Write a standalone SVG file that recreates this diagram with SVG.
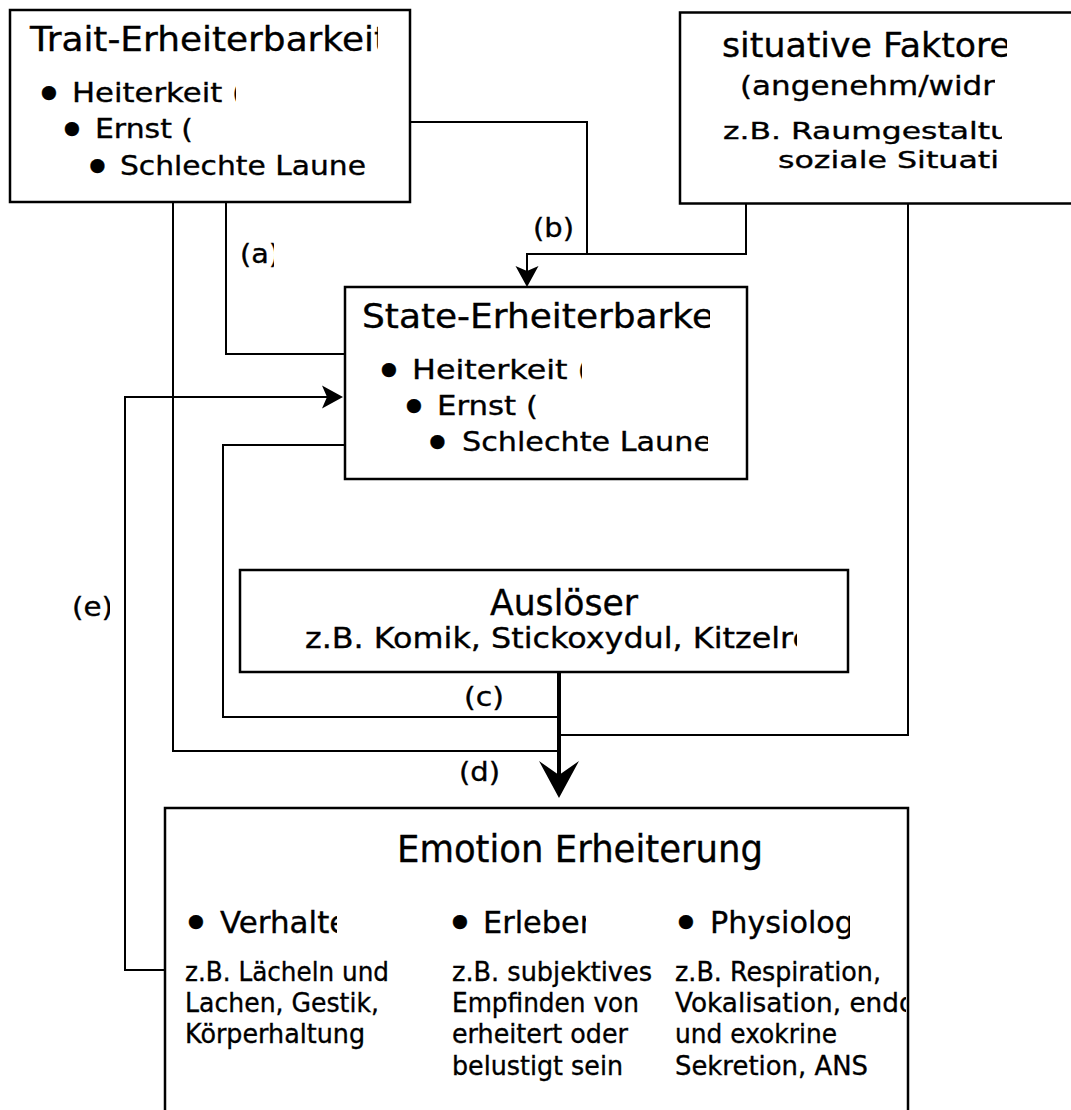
<svg xmlns="http://www.w3.org/2000/svg" width="1071" height="1110" viewBox="0 0 1071 1110">
<style>
.box{fill:#fff;stroke:#000;stroke-width:2.5}
.t{font-family:"DejaVu Sans","Liberation Sans",sans-serif;fill:#000;stroke:#000;stroke-width:0.35}
.ttl{font-size:33px}
.b25{font-size:27px}
.sm{font-size:23.5px}
.lab{font-size:27px}
.b27{font-size:29px}
.b30{font-size:31px}
.b24{font-size:26px}
.bul{font-size:48px;text-anchor:middle}
.ln{fill:none;stroke:#000;stroke-width:2}
.thick{fill:none;stroke:#000;stroke-width:4}
</style>
<defs>
<marker id="ah" markerUnits="userSpaceOnUse" orient="auto" overflow="visible" refX="-6" refY="0" markerWidth="1" markerHeight="1"><path d="M0,0 L-21,-11.5 L-16,0 L-21,11.5 Z" fill="#000"/></marker>
<marker id="ahBig" markerUnits="userSpaceOnUse" orient="auto" overflow="visible" refX="-13" refY="0" markerWidth="1" markerHeight="1"><path d="M0,0 L-37,-20 L-23,0 L-37,20 Z" fill="#000"/></marker>
<clipPath id="c378" clipPathUnits="userSpaceOnUse"><rect x="0" y="0" width="378" height="1110"/></clipPath>
<clipPath id="c236" clipPathUnits="userSpaceOnUse"><rect x="0" y="0" width="236" height="1110"/></clipPath>
<clipPath id="c367" clipPathUnits="userSpaceOnUse"><rect x="0" y="0" width="367" height="1110"/></clipPath>
<clipPath id="c1007" clipPathUnits="userSpaceOnUse"><rect x="0" y="0" width="1007" height="1110"/></clipPath>
<clipPath id="c995" clipPathUnits="userSpaceOnUse"><rect x="0" y="0" width="995" height="1110"/></clipPath>
<clipPath id="c1002" clipPathUnits="userSpaceOnUse"><rect x="0" y="0" width="1002" height="1110"/></clipPath>
<clipPath id="c710" clipPathUnits="userSpaceOnUse"><rect x="0" y="0" width="710" height="1110"/></clipPath>
<clipPath id="c582" clipPathUnits="userSpaceOnUse"><rect x="0" y="0" width="582" height="1110"/></clipPath>
<clipPath id="c708" clipPathUnits="userSpaceOnUse"><rect x="0" y="0" width="708" height="1110"/></clipPath>
<clipPath id="c797" clipPathUnits="userSpaceOnUse"><rect x="0" y="0" width="797" height="1110"/></clipPath>
<clipPath id="c337" clipPathUnits="userSpaceOnUse"><rect x="0" y="0" width="337" height="1110"/></clipPath>
<clipPath id="c586" clipPathUnits="userSpaceOnUse"><rect x="0" y="0" width="586" height="1110"/></clipPath>
<clipPath id="c850" clipPathUnits="userSpaceOnUse"><rect x="0" y="0" width="850" height="1110"/></clipPath>
<clipPath id="c906" clipPathUnits="userSpaceOnUse"><rect x="0" y="0" width="906" height="1110"/></clipPath>
<clipPath id="c274" clipPathUnits="userSpaceOnUse"><rect x="0" y="0" width="274" height="1110"/></clipPath>
<clipPath id="c573" clipPathUnits="userSpaceOnUse"><rect x="0" y="0" width="573" height="1110"/></clipPath>
<clipPath id="c504" clipPathUnits="userSpaceOnUse"><rect x="0" y="0" width="504" height="1110"/></clipPath>
<clipPath id="c499" clipPathUnits="userSpaceOnUse"><rect x="0" y="0" width="499" height="1110"/></clipPath>
<clipPath id="c110" clipPathUnits="userSpaceOnUse"><rect x="0" y="0" width="110" height="1110"/></clipPath>
</defs>
<rect width="1071" height="1110" fill="#fff"/>

<g id="connectors">
<path class="ln" d="M173,202 V751 H557"/>
<path class="ln" d="M226,202 V354 H345"/>
<path class="ln" d="M410,122 H587 V254"/>
<path class="ln" d="M746,204 V254 H527 V281" marker-end="url(#ah)"/>
<path class="ln" d="M908,204 V735 H561"/>
<path class="ln" d="M345,445 H223 V717 H557"/>
<path class="ln" d="M165,970 H125 V397 H337" marker-end="url(#ah)"/>
<path class="thick" d="M559,672 V785" marker-end="url(#ahBig)"/>
<text class="t lab" x="240" y="263" textLength="40" lengthAdjust="spacingAndGlyphs" clip-path="url(#c274)">(a)</text>
<text class="t lab" x="533" y="237" textLength="41" lengthAdjust="spacingAndGlyphs" clip-path="url(#c573)">(b)</text>
<text class="t lab" x="464" y="706" textLength="40" lengthAdjust="spacingAndGlyphs" clip-path="url(#c504)">(c)</text>
<text class="t lab" x="459" y="781" textLength="41" lengthAdjust="spacingAndGlyphs" clip-path="url(#c499)">(d)</text>
<text class="t lab" x="72" y="616" textLength="41" lengthAdjust="spacingAndGlyphs" clip-path="url(#c110)">(e)</text>
</g>

<g id="trait">
<rect class="box" x="10" y="10" width="400" height="192"/>
<text class="t ttl" x="30" y="51" textLength="358" lengthAdjust="spacingAndGlyphs" clip-path="url(#c378)">Trait-Erheiterbarkeit</text>
<text class="t bul" x="49" y="111">•</text>
<text class="t b25" x="72" y="102" textLength="172" lengthAdjust="spacingAndGlyphs" clip-path="url(#c236)">Heiterkeit (</text>
<text class="t bul" x="72" y="147">•</text>
<text class="t b25" x="95" y="138" textLength="98" lengthAdjust="spacingAndGlyphs">Ernst (</text>
<text class="t bul" x="97.5" y="184">•</text>
<text class="t b25" x="120" y="175" textLength="246" lengthAdjust="spacingAndGlyphs" clip-path="url(#c367)">Schlechte Laune</text>
</g>

<g id="situativ">
<rect class="box" x="680" y="12.5" width="420" height="191"/>
<text class="t ttl" x="722" y="57" textLength="289" lengthAdjust="spacingAndGlyphs" clip-path="url(#c1007)">situative Faktore</text>
<text class="t b25" x="740" y="95" textLength="255" lengthAdjust="spacingAndGlyphs" clip-path="url(#c995)">(angenehm/widr</text>
<text class="t sm" x="723" y="139" textLength="287" lengthAdjust="spacingAndGlyphs" clip-path="url(#c1002)">z.B. Raumgestaltu</text>
<text class="t sm" x="778" y="168" textLength="221" lengthAdjust="spacingAndGlyphs" clip-path="url(#c1002)">soziale Situati</text>
</g>

<g id="state">
<rect class="box" x="345" y="287" width="402" height="192"/>
<text class="t ttl" x="362" y="328" textLength="352" lengthAdjust="spacingAndGlyphs" clip-path="url(#c710)">State-Erheiterbarke</text>
<text class="t bul" x="389" y="388">•</text>
<text class="t b25" x="412" y="379" textLength="178" lengthAdjust="spacingAndGlyphs" clip-path="url(#c582)">Heiterkeit (</text>
<text class="t bul" x="414" y="424">•</text>
<text class="t b25" x="437" y="415" textLength="101" lengthAdjust="spacingAndGlyphs">Ernst (</text>
<text class="t bul" x="437.5" y="460">•</text>
<text class="t b25" x="462" y="451" textLength="250" lengthAdjust="spacingAndGlyphs" clip-path="url(#c708)">Schlechte Laune</text>
</g>

<g id="ausloeser">
<rect class="box" x="240" y="570" width="608" height="102"/>
<text class="t" style="font-size:35px" x="490" y="615" textLength="148" lengthAdjust="spacingAndGlyphs">Auslöser</text>
<text class="t b27" x="305" y="648" textLength="507" lengthAdjust="spacingAndGlyphs" clip-path="url(#c797)">z.B. Komik, Stickoxydul, Kitzelre</text>
</g>

<g id="emotion">
<rect class="box" x="165" y="808" width="743" height="330"/>
<text class="t" style="font-size:36.5px" x="397" y="862" textLength="366" lengthAdjust="spacingAndGlyphs">Emotion Erheiterung</text>
<text class="t bul" x="196" y="940">•</text>
<text class="t b30" x="220" y="933" textLength="148" lengthAdjust="spacingAndGlyphs" clip-path="url(#c337)">Verhalten</text>
<text class="t bul" x="460" y="940">•</text>
<text class="t b30" x="483" y="933" textLength="116" lengthAdjust="spacingAndGlyphs" clip-path="url(#c586)">Erleben</text>
<text class="t bul" x="686" y="940">•</text>
<text class="t b30" x="710" y="933" textLength="171" lengthAdjust="spacingAndGlyphs" clip-path="url(#c850)">Physiologie</text>
<text class="t b24" x="185" y="981" textLength="204" lengthAdjust="spacingAndGlyphs">z.B. Lächeln und</text>
<text class="t b24" x="185" y="1012" textLength="194" lengthAdjust="spacingAndGlyphs">Lachen, Gestik,</text>
<text class="t b24" x="185" y="1043" textLength="180" lengthAdjust="spacingAndGlyphs">Körperhaltung</text>
<text class="t b24" x="452" y="981" textLength="200" lengthAdjust="spacingAndGlyphs">z.B. subjektives</text>
<text class="t b24" x="452" y="1012" textLength="187" lengthAdjust="spacingAndGlyphs">Empfinden von</text>
<text class="t b24" x="452" y="1043" textLength="176" lengthAdjust="spacingAndGlyphs">erheitert oder</text>
<text class="t b24" x="452" y="1075" textLength="171" lengthAdjust="spacingAndGlyphs">belustigt sein</text>
<text class="t b24" x="675" y="981" textLength="206" lengthAdjust="spacingAndGlyphs">z.B. Respiration,</text>
<text class="t b24" x="675" y="1012" textLength="240" lengthAdjust="spacingAndGlyphs" clip-path="url(#c906)">Vokalisation, endo</text>
<text class="t b24" x="675" y="1043" textLength="162" lengthAdjust="spacingAndGlyphs">und exokrine</text>
<text class="t b24" x="675" y="1075" textLength="193" lengthAdjust="spacingAndGlyphs">Sekretion, ANS</text>
</g>
</svg>
